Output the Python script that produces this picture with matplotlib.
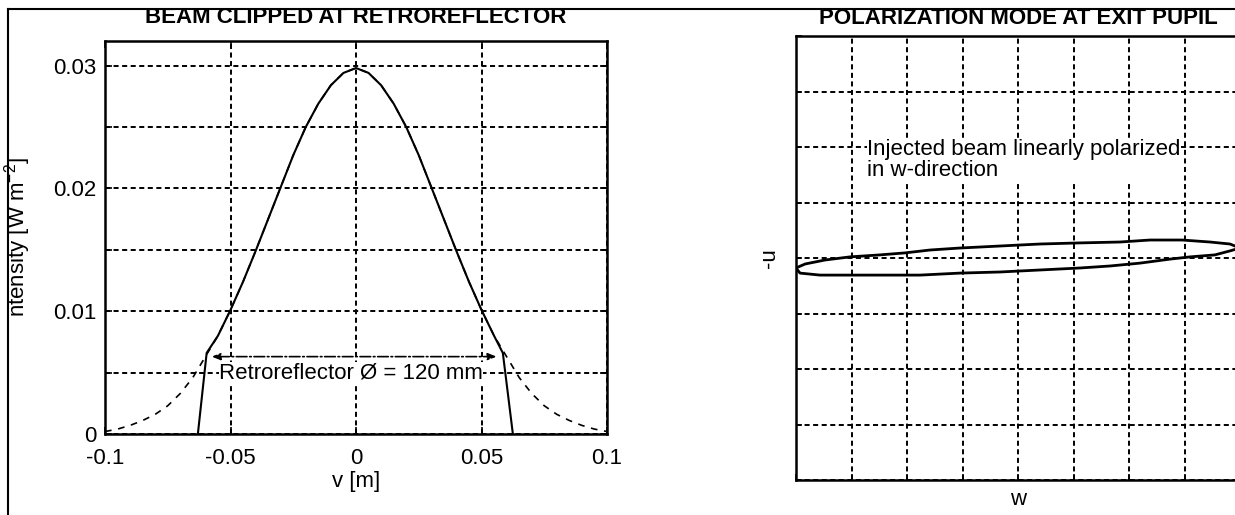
import matplotlib
matplotlib.use('Agg')
import matplotlib.pyplot as plt
from matplotlib.lines import Line2D

plt.rcParams['font.family'] = ['Liberation Sans', 'DejaVu Sans']
plt.rcParams['axes.unicode_minus'] = False
plt.rcParams['mathtext.default'] = 'regular'

# ---- data ----
# full gaussian beam (dashed)
v_beam = [-0.1, -0.095, -0.09, -0.085, -0.08, -0.075, -0.07, -0.065, -0.06, -0.055,
          -0.05, -0.045, -0.04, -0.035, -0.03, -0.025, -0.02, -0.015, -0.01, -0.005,
          0.0, 0.005, 0.01, 0.015, 0.02, 0.025, 0.03, 0.035, 0.04, 0.045,
          0.05, 0.055, 0.06, 0.065, 0.07, 0.075, 0.08, 0.085, 0.09, 0.095, 0.1]
i_beam = [0.0002, 0.0004, 0.0007, 0.0011, 0.0016, 0.0023, 0.0033, 0.0046, 0.0063, 0.0080,
          0.0101, 0.0124, 0.0149, 0.0175, 0.0201, 0.0227, 0.0250, 0.0269, 0.0284, 0.0294,
          0.0298, 0.0294, 0.0284, 0.0269, 0.0250, 0.0227, 0.0201, 0.0175, 0.0149, 0.0124,
          0.0101, 0.0080, 0.0063, 0.0046, 0.0033, 0.0023, 0.0016, 0.0011, 0.0007, 0.0004, 0.0002]

# beam clipped at retroreflector (solid)
v_clip = [-0.063, -0.0595, -0.055, -0.05, -0.045, -0.04, -0.035, -0.03, -0.025, -0.02,
          -0.015, -0.01, -0.005, 0.0, 0.005, 0.01, 0.015, 0.02, 0.025, 0.03,
          0.035, 0.04, 0.045, 0.05, 0.055, 0.0585, 0.0625]
i_clip = [0.0, 0.0066, 0.0080, 0.0101, 0.0124, 0.0149, 0.0175, 0.0201, 0.0227, 0.0250,
          0.0269, 0.0284, 0.0294, 0.0298, 0.0294, 0.0284, 0.0269, 0.0250, 0.0227, 0.0201,
          0.0175, 0.0149, 0.0124, 0.0101, 0.0080, 0.0066, 0.0]

# polarization ellipse, upper and lower branch
w_up = [-1.0, -0.959, -0.869, -0.757, -0.622, -0.509, -0.396, -0.261, -0.081, 0.099,
        0.279, 0.459, 0.595, 0.739, 0.865, 0.955, 1.0]
u_up = [-0.045, -0.027, -0.009, 0.005, 0.014, 0.023, 0.036, 0.045, 0.054, 0.063,
        0.068, 0.072, 0.081, 0.081, 0.072, 0.063, 0.045]
w_lo = [-1.0, -0.982, -0.892, -0.667, -0.441, -0.261, -0.081, 0.099, 0.279, 0.414,
        0.550, 0.685, 0.775, 0.887, 0.955, 1.0]
u_lo = [-0.045, -0.068, -0.077, -0.077, -0.077, -0.068, -0.063, -0.054, -0.045, -0.036,
        -0.023, -0.005, 0.005, 0.014, 0.032, 0.045]

x_ticks = [-0.1, -0.05, 0, 0.05, 0.1]
x_labels = ['-0.1', '-0.05', '0', '0.05', '0.1']
y_ticks = [0, 0.005, 0.01, 0.015, 0.02, 0.025, 0.03]
y_labels = ['0', '', '0.01', '', '0.02', '', '0.03']
pol_ticks = [-1, -0.75, -0.5, -0.25, 0, 0.25, 0.5, 0.75, 1]

W, H = 1235, 515
fig = plt.figure(figsize=(W / 100, H / 100), dpi=100)
gridstyle = dict(color='k', linestyle=(0, (2.6, 1.8)), linewidth=1.4)

# ---- left: beam clipped ----
ax1 = fig.add_axes([105 / W, 81 / H, 502 / W, 393 / H])
ax1.plot(v_beam, i_beam, color='k', linestyle=(0, (4, 4)), lw=1.2)
ax1.plot(v_clip, i_clip, color='k', lw=1.5)
ax1.set_xlim(-0.1, 0.1)
ax1.set_ylim(0, 0.032)
ax1.set_xticks(x_ticks)
ax1.set_xticklabels(x_labels)
ax1.set_yticks(y_ticks)
ax1.set_yticklabels(y_labels)
ax1.grid(True, **gridstyle)
ax1.tick_params(direction='in', length=5, width=1.2, top=True, right=True,
                labelsize=16, pad=6)
ax1.tick_params(axis='x', pad=10)
for s in ax1.spines.values():
    s.set_linewidth(1.8)
ax1.annotate('', xy=(-0.0575, 0.0063), xytext=(0.056, 0.0063),
             arrowprops=dict(arrowstyle='<|-|>,head_length=0.5,head_width=0.2',
                             linestyle='-.', lw=1.2, color='k',
                             shrinkA=0, shrinkB=0))
ax1.text(-0.0545, 0.0050, 'Retroreflector Ø = 120 mm', fontsize=16,
         ha='left', va='center', zorder=5,
         bbox=dict(facecolor='white', edgecolor='none', pad=0))
ax1.set_title('BEAM CLIPPED AT RETROREFLECTOR', fontsize=16, fontweight='bold', pad=13)
ax1.set_xlabel('v [m]', fontsize=16)
ax1.xaxis.set_label_coords(0.5, -0.093)
ax1.set_ylabel('ntensity [W m$^{-2}$]', fontsize=16)
ax1.yaxis.set_label_coords(-0.143, 0.5)

# ---- right: polarization ellipse ----
ax2 = fig.add_axes([796 / W, 35 / H, 444 / W, 444 / H])
ax2.plot(w_up, u_up, color='k', lw=2)
ax2.plot(w_lo, u_lo, color='k', lw=2)
ax2.set_xlim(-1, 1)
ax2.set_ylim(-1, 1)
ax2.set_xticks(pol_ticks)
ax2.set_yticks(pol_ticks)
ax2.grid(True, **gridstyle)
ax2.tick_params(direction='in', length=4, width=1.2, labelbottom=False, labelleft=False)
for s in ax2.spines.values():
    s.set_linewidth(1.8)
ax2.text(-0.68, 0.44, 'Injected beam linearly polarized\nin w-direction', fontsize=16,
         ha='left', va='center', linespacing=1.0, zorder=5,
         bbox=dict(facecolor='white', edgecolor='none', pad=0))
ax2.set_title('POLARIZATION MODE AT EXIT PUPIL', fontsize=16, fontweight='bold', pad=9)
ax2.set_xlabel('w', fontsize=16)
ax2.xaxis.set_label_coords(0.5, -0.02)
ax2.set_ylabel('-u', fontsize=16)
ax2.yaxis.set_label_coords(-0.035, 0.5)

# figure frame (partly cut off)
fig.add_artist(Line2D([8 / W, 1.0], [1 - 9 / H, 1 - 9 / H], transform=fig.transFigure,
                      color='k', lw=1.5))
fig.add_artist(Line2D([8 / W, 8 / W], [0.0, 1 - 9 / H], transform=fig.transFigure,
                      color='k', lw=1.5))

fig.savefig('out.png', dpi=100)
